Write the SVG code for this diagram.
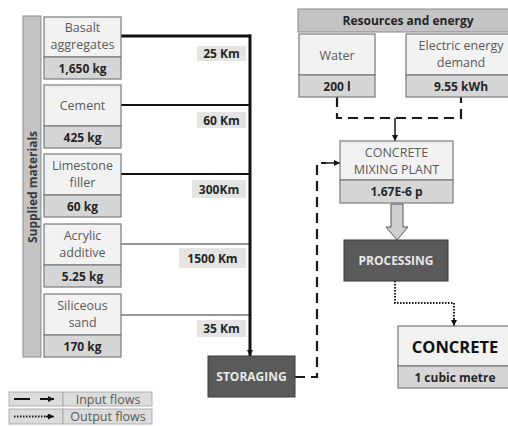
<svg xmlns="http://www.w3.org/2000/svg" width="508" height="426" viewBox="0 0 508 426">
<defs>
<style>
.top{fill:#f2f2f2;stroke:#7a7a7a;stroke-width:1.2}
.bot{fill:#d6d6d6;stroke:#7a7a7a;stroke-width:1.2}
.lbl{font-family:"Open Sans","Liberation Sans",sans-serif;font-size:12.5px;fill:#5a5a5a;text-anchor:middle}
.val{font-family:"Open Sans","Liberation Sans",sans-serif;font-size:12px;font-weight:bold;fill:#262626;text-anchor:middle}
.dist{fill:#e4e4e4}
.dark{fill:#5a5a5a;stroke:#3a3a3a;stroke-width:1}
.wt{font-family:"Open Sans","Liberation Sans",sans-serif;font-size:12px;font-weight:bold;fill:#e8e8e8;text-anchor:middle}
.dash{fill:none;stroke:#1a1a1a;stroke-width:2.2;stroke-dasharray:10 6}
.dot{fill:none;stroke:#1a1a1a;stroke-width:2;stroke-dasharray:1.5 1.5}
</style>
<marker id="ahs" viewBox="0 0 10 10" refX="10" refY="5" markerWidth="6" markerHeight="6" orient="auto" markerUnits="userSpaceOnUse"><path d="M0,0 L10,5 L0,10 z" fill="#111"/></marker>
</defs>
<rect width="508" height="426" fill="#ffffff"/>

<g id="connectors">
<line x1="121" y1="36" x2="251" y2="36" stroke="#111" stroke-width="3"/>
<line x1="121" y1="105" x2="250" y2="105" stroke="#111" stroke-width="2.2"/>
<line x1="121" y1="174" x2="250" y2="174" stroke="#111" stroke-width="1.8"/>
<line x1="121" y1="244" x2="250" y2="244" stroke="#333" stroke-width="1.2"/>
<line x1="121" y1="315" x2="250" y2="315" stroke="#333" stroke-width="1.2"/>
<line x1="250" y1="34.5" x2="250" y2="356" stroke="#111" stroke-width="3" marker-end="url(#ahs)"/>
<path class="dash" d="M337,97 V118 H461 V97"/>
<line x1="395" y1="118" x2="395" y2="141" stroke="#1a1a1a" stroke-width="1.5" marker-end="url(#ahs)"/>
<path class="dash" d="M295,377 H317 V163 H326"/>
<line x1="326" y1="163" x2="340" y2="163" stroke="#1a1a1a" stroke-width="1.5" marker-end="url(#ahs)"/>
<path d="M391,204 H403 V227 H408 L397,240 L386,227 H391 Z" fill="#cfcfcf" stroke="#555" stroke-width="1"/>
<path class="dot" d="M395,281 V303 H454 V320"/>
<line x1="454" y1="318" x2="454" y2="326" stroke="#1a1a1a" stroke-width="1.5" marker-end="url(#ahs)"/>
</g>

<g id="supplied-materials">
<rect x="23" y="16" width="18" height="341" fill="#c4c4c4" stroke="#8a8a8a" stroke-width="1"/>
<text transform="translate(36.5,187) rotate(-90)" font-family="'Open Sans','Liberation Sans',sans-serif" font-size="12px" font-weight="bold" fill="#3a3a3a" text-anchor="middle">Supplied materials</text>
</g>

<g id="basalt">
<rect class="top" x="44" y="17" width="77" height="40"/>
<rect class="bot" x="44" y="57" width="77" height="22"/>
<text class="lbl" x="82.5" y="32">Basalt</text>
<text class="lbl" x="82.5" y="49">aggregates</text>
<text class="val" x="82.5" y="72.5">1,650 kg</text>
</g>
<g id="cement">
<rect class="top" x="44" y="85" width="77" height="41"/>
<rect class="bot" x="44" y="126" width="77" height="22"/>
<text class="lbl" x="82.5" y="110">Cement</text>
<text class="val" x="82.5" y="141.5">425 kg</text>
</g>
<g id="limestone">
<rect class="top" x="44" y="154" width="77" height="41"/>
<rect class="bot" x="44" y="195" width="77" height="22"/>
<text class="lbl" x="82.5" y="170">Limestone</text>
<text class="lbl" x="82.5" y="187">filler</text>
<text class="val" x="82.5" y="210.5">60 kg</text>
</g>
<g id="acrylic">
<rect class="top" x="44" y="224" width="77" height="41"/>
<rect class="bot" x="44" y="265" width="77" height="22"/>
<text class="lbl" x="82.5" y="240">Acrylic</text>
<text class="lbl" x="82.5" y="257">additive</text>
<text class="val" x="82.5" y="280.5">5.25 kg</text>
</g>
<g id="siliceous">
<rect class="top" x="44" y="294" width="77" height="41"/>
<rect class="bot" x="44" y="335" width="77" height="22"/>
<text class="lbl" x="82.5" y="310">Siliceous</text>
<text class="lbl" x="82.5" y="327">sand</text>
<text class="val" x="82.5" y="350.5">170 kg</text>
</g>

<g id="distances">
<rect class="dist" x="197" y="46" width="49" height="15"/>
<text class="val" x="221.5" y="58">25 Km</text>
<rect class="dist" x="197" y="112" width="49" height="16"/>
<text class="val" x="221.5" y="124.5">60 Km</text>
<rect class="dist" x="192" y="180" width="54" height="18"/>
<text class="val" x="219" y="193.5">300Km</text>
<rect class="dist" x="179" y="248" width="67" height="20"/>
<text class="val" x="212.5" y="262.5">1500 Km</text>
<rect class="dist" x="197" y="320" width="49" height="17"/>
<text class="val" x="221.5" y="333">35 Km</text>
</g>

<g id="storaging">
<rect class="dark" x="208" y="356" width="87" height="41"/>
<text class="wt" x="251.5" y="381">STORAGING</text>
</g>

<g id="resources">
<rect x="298" y="9" width="214" height="23" fill="#c4c4c4" stroke="#8a8a8a" stroke-width="1"/>
<text class="val" x="408" y="25">Resources and energy</text>
</g>
<g id="water">
<rect class="top" x="299" y="34" width="76" height="41"/>
<rect class="bot" x="299" y="75" width="76" height="22"/>
<text class="lbl" x="337" y="60">Water</text>
<text class="val" x="337" y="91">200 l</text>
</g>
<g id="electric">
<rect class="top" x="406" y="34" width="108" height="41"/>
<rect class="bot" x="406" y="75" width="108" height="22"/>
<text class="lbl" x="461" y="50">Electric energy</text>
<text class="lbl" x="461" y="67">demand</text>
<text class="val" x="461" y="91">9.55 kWh</text>
</g>

<g id="mixing-plant">
<rect class="top" x="340" y="141" width="113" height="39"/>
<rect class="bot" x="340" y="180" width="113" height="23"/>
<text class="lbl" x="396.5" y="157">CONCRETE</text>
<text class="lbl" x="396.5" y="174">MIXING PLANT</text>
<text class="val" x="396.5" y="196">1.67E-6 p</text>
</g>

<g id="processing">
<rect class="dark" x="344" y="240" width="104" height="41"/>
<text class="wt" x="396" y="265">PROCESSING</text>
</g>

<g id="concrete">
<rect class="top" x="398" y="326" width="114" height="40"/>
<rect class="bot" x="398" y="366" width="114" height="22"/>
<text x="455" y="353" font-family="'Open Sans','Liberation Sans',sans-serif" font-size="16.5px" font-weight="bold" fill="#111" text-anchor="middle">CONCRETE</text>
<text class="val" x="455" y="381.5">1 cubic metre</text>
</g>

<g id="legend">
<rect x="9" y="392" width="54" height="14" fill="#dcdcdc" stroke="#a0a0a0" stroke-width="0.8"/>
<rect x="63" y="392" width="89" height="14" fill="#dcdcdc" stroke="#a0a0a0" stroke-width="0.8"/>
<rect x="9" y="409" width="54" height="15" fill="#dcdcdc" stroke="#a0a0a0" stroke-width="0.8"/>
<rect x="63" y="409" width="89" height="15" fill="#dcdcdc" stroke="#a0a0a0" stroke-width="0.8"/>
<line x1="14" y1="399" x2="30" y2="399" stroke="#111" stroke-width="2"/>
<line x1="40" y1="399" x2="54" y2="399" stroke="#111" stroke-width="2" marker-end="url(#ahs)"/>
<path class="dot" d="M14,416.5 H48"/>
<line x1="46" y1="416.5" x2="54" y2="416.5" stroke="#111" stroke-width="1.5" marker-end="url(#ahs)"/>
<text class="lbl" x="108" y="403.5">Input flows</text>
<text class="lbl" x="108" y="421">Output flows</text>
</g>
</svg>
